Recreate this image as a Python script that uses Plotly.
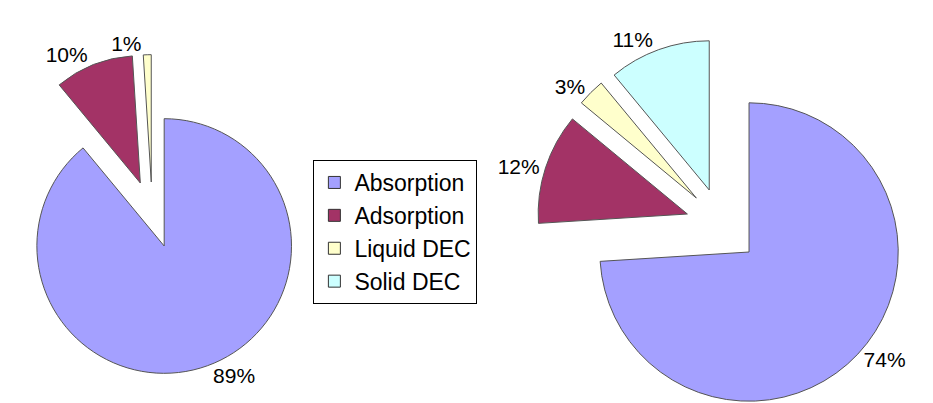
import plotly.graph_objects as go

# ---- data ----
categories = ["Absorption", "Adsorption", "Liquid DEC", "Solid DEC"]
left_labels = ["Absorption", "Adsorption", "Liquid DEC"]
left_values = [89, 10, 1]
right_labels = ["Absorption", "Adsorption", "Liquid DEC", "Solid DEC"]
right_values = [74, 12, 3, 11]

# ---- style / layout ----
colors = {"Absorption": "#A4A0FF", "Adsorption": "#A33366",
          "Liquid DEC": "#FFFFCC", "Solid DEC": "#CCFFFF"}
W, H = 933, 403
FONT = "Liberation Sans, Arial, sans-serif"
# pie centre (px), radius (px) and explosion offset of each slice (px)
LEFT = dict(cx=152, cy=238, r=128, offsets=[(0, 0), (-24, -63), (-13, -64)])
RIGHT = dict(cx=740, cy=244, r=150, offsets=[(0, 0), (-62, -38), (-53, -54), (-40, -62)])

fig = go.Figure()

# legend-only trace (tiny domain hidden behind the legend box)
fig.add_trace(go.Pie(
    labels=categories, values=[1, 1, 1, 1], sort=False,
    marker=dict(colors=[colors[c] for c in categories],
                line=dict(color="#333333", width=1)),
    textinfo="none", hoverinfo="skip", showlegend=True,
    domain=dict(x=[0.42, 0.421], y=[0.45, 0.452]),
))


def add_pie(labels, values, geo):
    total = float(sum(values))
    for k, lab in enumerate(labels):
        dx, dy = geo["offsets"][k]
        cx, cy, r = geo["cx"] + dx, geo["cy"] + dy, geo["r"]
        texts = [f"{values[j] / total * 100:.0f}%" if j == k else "" for j in range(len(labels))]
        cols = [colors[labels[j]] if j == k else "rgba(0,0,0,0)" for j in range(len(labels))]
        lws = [1 if j == k else 0 for j in range(len(labels))]
        fig.add_trace(go.Pie(
            labels=labels, values=values, sort=False, direction="clockwise", rotation=0,
            text=texts, textinfo="text", textposition="outside",
            outsidetextfont=dict(family=FONT, size=21, color="black"),
            marker=dict(colors=cols, line=dict(color="#555555", width=lws)),
            showlegend=False, hoverinfo="label+percent",
            domain=dict(x=[max(0, (cx - r) / W), min(1, (cx + r) / W)],
                        y=[max(0, 1 - (cy + r) / H), min(1, 1 - (cy - r) / H)]),
        ))


add_pie(left_labels, left_values, LEFT)
add_pie(right_labels, right_values, RIGHT)

fig.update_layout(
    width=W, height=H,
    margin=dict(l=0, r=0, t=0, b=0),
    paper_bgcolor="white", plot_bgcolor="white",
    font=dict(family=FONT, size=21, color="black"),
    legend=dict(x=302 / W, y=1 - 152 / H, xanchor="left", yanchor="top",
                bgcolor="white", bordercolor="black", borderwidth=1,
                font=dict(family=FONT, size=23, color="black"),
                traceorder="normal"),
)

fig.write_html("out.html")
